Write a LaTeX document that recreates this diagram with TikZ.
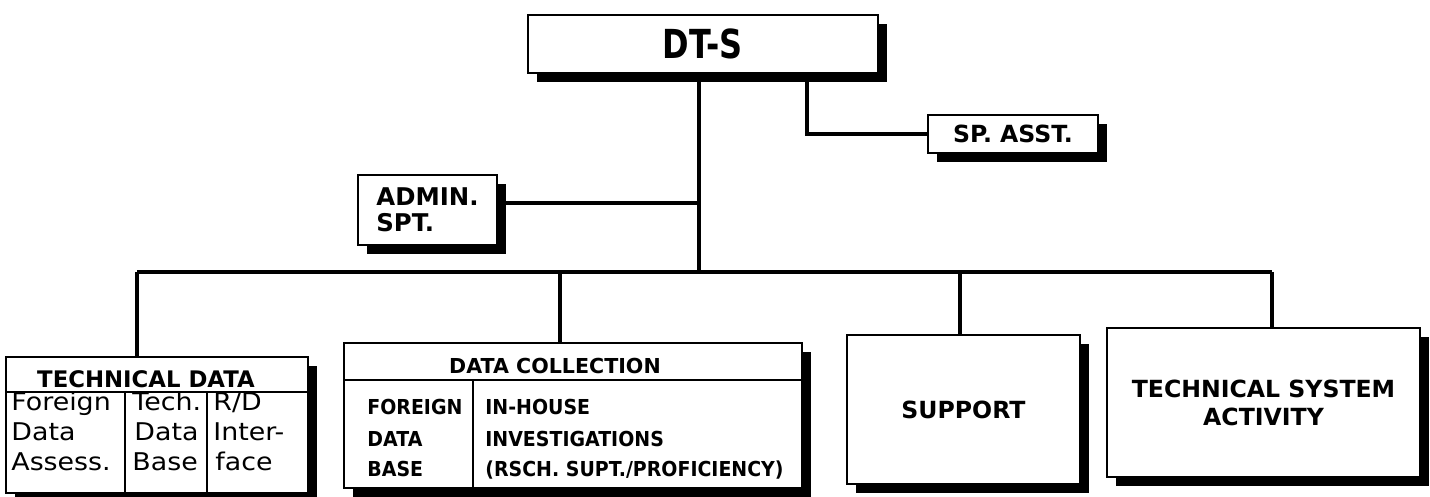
\documentclass[tikz,border=0pt]{standalone}
\usepackage{fontspec}
\setmainfont{DejaVu Sans}
\newfontfamily\narrowfont{DejaVu Sans}[FakeStretch=0.8]
\newfontfamily\widefont{DejaVu Sans}[FakeStretch=1.1]
\newfontfamily\condfont{DejaVu Sans}[FakeStretch=0.92]
\usetikzlibrary{shadows}

\begin{document}
\begin{tikzpicture}[x=0.5pt,y=-0.5pt,
  orgbox/.style={draw, line width=1.3pt, fill=white, inner sep=0pt,
    drop shadow={shadow xshift=4.5pt, shadow yshift=-4.5pt, fill=black, opacity=1}},
  orgline/.style={line width=1.7pt},
  boxlabel/.style={font=\bfseries\fontsize{11.8}{14}\selectfont, align=center},
  celltext/.style={font=\widefont\fontsize{12.2}{14}\selectfont, anchor=base west, inner sep=0pt},
  dctext/.style={font=\condfont\bfseries\fontsize{10.3}{12}\selectfont, anchor=base west, inner sep=0pt}]

\useasboundingbox (0,0) rectangle (1430,497);

%livello 0
\node[orgbox, minimum width=175pt, minimum height=29pt,
  font=\narrowfont\bfseries\fontsize{20}{22}\selectfont] (dts) at (703,44) {DT-S};

%staff
\node[orgbox, minimum width=85pt, minimum height=19pt, boxlabel] (spasst) at (1013,134) {SP.\ ASST.};
\node[orgbox, minimum width=69.5pt, minimum height=35pt,
  font=\bfseries\fontsize{12.2}{13}\selectfont, align=left] (admin) at (427.5,210) {ADMIN.\\SPT.};

%livello 1
\node[orgbox, minimum width=151pt, minimum height=68pt] (techdata) at (157,425) {};
\node[orgbox, minimum width=229pt, minimum height=72.5pt] (datacoll) at (573,415.5) {};
\node[orgbox, minimum width=116.5pt, minimum height=74.5pt, boxlabel] (support) at (963.5,409.5) {SUPPORT};
\node[orgbox, minimum width=156.5pt, minimum height=74.5pt, boxlabel] (tsa) at (1263.5,402.5) {TECHNICAL SYSTEM\\ACTIVITY};

%collegamenti
\coordinate (bus) at (699,272);
\coordinate (spbend) at (807,134);
\draw[orgline] (dts.south -| bus) -- (bus);
\draw[orgline] (dts.south -| spbend) -- (spbend) -- (spasst.west);
\draw[orgline] ([yshift=3.5pt]admin.east) -- ([yshift=3.5pt]admin.east -| bus);

\coordinate (b1) at (137,272);
\coordinate (b2) at (560,272);
\coordinate (b3) at (960,272);
\coordinate (b4) at (1272,272);
\draw[orgline] (b1) -- (b4);
\draw[orgline] (b1) -- (b1 |- techdata.north);
\draw[orgline] (b2) -- (b2 |- datacoll.north);
\draw[orgline] (b3) -- (b3 |- support.north);
\draw[orgline] (b4) -- (b4 |- tsa.north);

%technical data
\draw[line width=1.3pt] (6,392) -- (308,392);
\draw[line width=1.3pt] (125,392) -- (125,493);
\draw[line width=1.3pt] (207,392) -- (207,493);
\node[font=\bfseries\fontsize{11.4}{12}\selectfont, anchor=base, inner sep=0pt] (tdtitle) at (146,387) {TECHNICAL DATA};
\node[celltext] (tdA1) at (11,410) {Foreign};
\node[celltext] (tdA2) at (11,440) {Data};
\node[celltext] (tdA3) at (11,470) {Assess.};
\node[celltext] (tdB1) at (132,410) {Tech.};
\node[celltext] (tdB2) at (134,440) {Data};
\node[celltext] (tdB3) at (132,470) {Base};
\node[celltext] (tdC1) at (213,410) {R/D};
\node[celltext] (tdC2) at (213,440) {Inter-};
\node[celltext] (tdC3) at (215,470) {face};

%data collection
\draw[line width=1.3pt] (344,380) -- (802,380);
\draw[line width=1.3pt] (473,380) -- (473,488);
\node[font=\bfseries\fontsize{10.3}{11}\selectfont, anchor=base, inner sep=0pt] (dctitle) at (555,373) {DATA COLLECTION};
\node[dctext] (dcA1) at (367,415) {FOREIGN};
\node[dctext] (dcA2) at (367,446) {DATA};
\node[dctext] (dcA3) at (367,476) {BASE};
\node[dctext] (dcB1) at (485,415) {IN-HOUSE};
\node[dctext] (dcB2) at (485,446) {INVESTIGATIONS};
\node[dctext] (dcB3) at (485,476) {(RSCH.\ SUPT./PROFICIENCY)};

\end{tikzpicture}
\end{document}
